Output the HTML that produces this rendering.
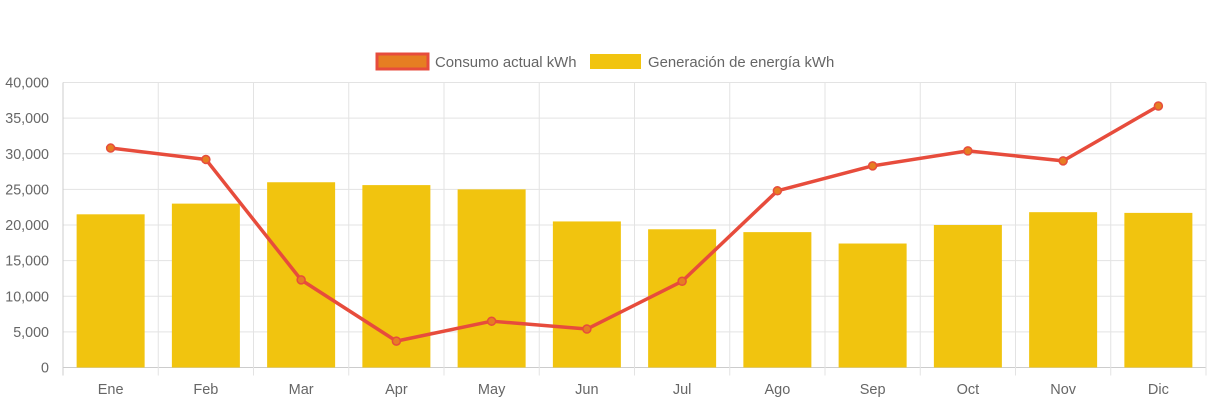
<!DOCTYPE html>
<html><head><meta charset="utf-8"><style>
body{margin:0;background:#fff;}
svg{display:block;font-family:"Liberation Sans",sans-serif;}
</style></head><body>
<svg id="chart" width="1213" height="403">
<g id="legend">
 <g>
  <rect x="377" y="54" width="51" height="15" fill="#e67e22" stroke="#e74c3c" stroke-width="3"/>
  <text x="435" y="67" font-size="14.9" fill="#666">Consumo actual kWh</text>
 </g>
 <g>
  <rect x="590" y="54" width="51" height="15" fill="#f1c40f"/>
  <text x="648" y="67" font-size="14.9" fill="#666">Generación de energía kWh</text>
 </g>
</g>
<g id="grid"></g>
<g id="bars"></g>
<g id="line"></g>
<g id="axes"></g>
</svg>
<script>
const categories=["Ene","Feb","Mar","Apr","May","Jun","Jul","Ago","Sep","Oct","Nov","Dic"];
const generacion=[21500,23000,26000,25600,25000,20500,19400,19000,17400,20000,21800,21700];
const consumo=[30800,29200,12300,3700,6500,5400,12100,24800,28300,30400,29000,36700];
const yTicks=[0,5000,10000,15000,20000,25000,30000,35000,40000];
const NS="http://www.w3.org/2000/svg";
const L=63,R=1206,T=82.5,B=367.5,yMax=40000;
const bw=(R-L)/categories.length;
const x=i=>L+bw*(i+0.5);
const y=v=>B-(v/yMax)*(B-T);
function mk(tag,at,parent){const e=document.createElementNS(NS,tag);for(const k in at)e.setAttribute(k,at[k]);document.getElementById(parent).appendChild(e);return e;}
yTicks.forEach(t=>{
 const l=mk('line',{x1:L,x2:R,y1:y(t),y2:y(t),stroke:t===0?'#ccc':'#e3e3e3','stroke-width':1},'grid');
 
 
 const tx=mk('text',{x:49,y:y(t)+5,'text-anchor':'end','font-size':14.3,fill:'#666'},'axes');
 tx.textContent=t.toLocaleString('en-US');
 
 
});
for(let i=0;i<=categories.length;i++){
 const gx=L+bw*i;
 const l=mk('line',{x1:gx,x2:gx,y1:T,y2:B+8,stroke:i===0?'#ccc':'#e3e3e3','stroke-width':1},'grid');
 
 
}
categories.forEach((c,i)=>{
 const tx=mk('text',{x:x(i),y:394,'text-anchor':'middle','font-size':14.5,fill:'#666'},'axes');
 tx.textContent=c;
 
 
 const b=mk('rect',{x:x(i)-34,y:y(generacion[i]),width:68,height:B-y(generacion[i]),fill:'#f1c40f'},'bars');
 
 
});
const p=mk('polyline',{points:consumo.map((v,i)=>x(i)+','+y(v)).join(' '),fill:'none',stroke:'#e74c3c','stroke-width':3.5,'stroke-linejoin':'round'},'line');


consumo.forEach((v,i)=>{
 const c=mk('circle',{cx:x(i),cy:y(v),r:4,fill:'#e67e22',stroke:'#e74c3c','stroke-width':1.5},'line');
 
 
});
</script>
</body></html>
